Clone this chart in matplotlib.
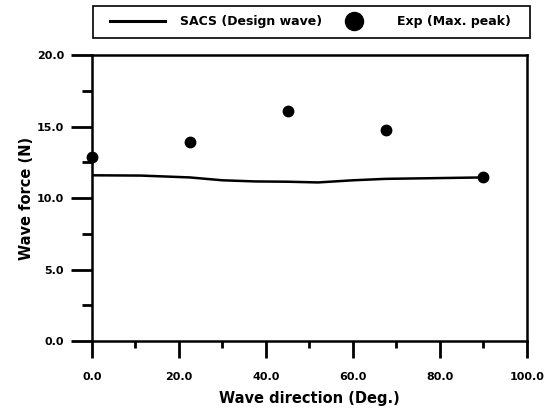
import numpy as np
import matplotlib
matplotlib.use("Agg")
from matplotlib import pyplot as plt
from matplotlib.lines import Line2D
from matplotlib.patches import Rectangle
from matplotlib.ticker import MultipleLocator

# SACS design wave curve
sacs_dir = [0.0, 11.25, 22.5, 30.0, 37.5, 45.0, 52.0, 60.0, 67.5, 90.0]
sacs_force = [11.6, 11.58, 11.45, 11.25, 11.17, 11.15, 11.1, 11.25, 11.35, 11.45]

# Experiment max peaks
exp_dir = [0.0, 22.5, 45.0, 67.5, 90.0]
exp_force = [12.9, 13.9, 16.1, 14.8, 11.45]

plt.rcParams.update({"font.family": "DejaVu Sans", "font.weight": "bold"})

fig = plt.figure(figsize=(5.54, 4.15), dpi=100)
ax = fig.add_axes([0.166, 0.178, 0.785, 0.689])

ax.plot(sacs_dir, sacs_force, color="black", lw=1.8)
ax.plot(exp_dir, exp_force, "o", color="black", ms=7.5, clip_on=False)

ax.set_xlim(0, 100)
ax.set_ylim(0, 20)
ax.xaxis.set_minor_locator(MultipleLocator(10))
ax.yaxis.set_minor_locator(MultipleLocator(2.5))
ax.set_xticks(np.arange(0, 101, 20))
ax.set_xticklabels(["0.0", "20.0", "40.0", "60.0", "80.0", "100.0"])
ax.set_yticks(np.arange(0, 21, 5))
ax.set_yticklabels(["0.0", "5.0", "10.0", "15.0", "20.0"])

ax.tick_params(which="major", direction="out", length=12, width=2, labelsize=8)
ax.tick_params(axis="x", which="major", pad=10)
ax.tick_params(axis="y", which="major", length=15, pad=5)
ax.tick_params(which="minor", direction="out", length=5, width=2)
ax.tick_params(axis="y", which="minor", length=7)
for s in ax.spines.values():
    s.set_linewidth(1.8)

ax.set_xlabel("Wave direction (Deg.)", fontsize=10.5, fontweight="bold", labelpad=7)
ax.set_ylabel("Wave force (N)", fontsize=10.5, fontweight="bold", labelpad=2)

# legend above the axes, with its own box
h1 = Line2D([], [], color="black", lw=2.2)
h2 = Line2D([], [], color="black", marker="o", ls="none", ms=13)
fig.legend([h1, h2], ["SACS (Design wave)", "Exp (Max. peak)"],
           loc="center", bbox_to_anchor=(0.560, 0.947), ncol=2, frameon=False,
           fontsize=9, handlelength=4.4, handletextpad=1.2, columnspacing=0.4)
fig.patches.append(Rectangle((0.168, 0.908), 0.789, 0.077, transform=fig.transFigure,
                             fill=False, edgecolor="black", lw=1.2))

fig.savefig("out.png", dpi=100)
